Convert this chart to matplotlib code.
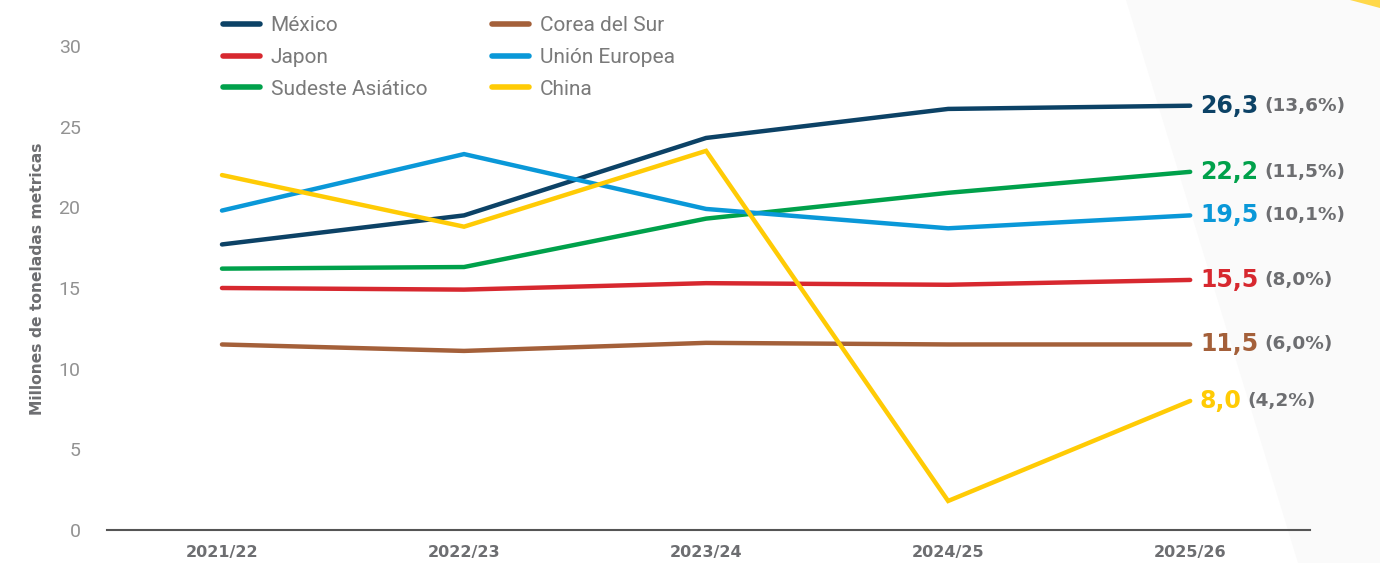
import matplotlib
matplotlib.use('Agg')
import matplotlib.pyplot as plt
from matplotlib.lines import Line2D
from matplotlib.patches import Polygon

# data (millones de toneladas metricas)
seasons = ['2021/22', '2022/23', '2023/24', '2024/25', '2025/26']
mexico   = [17.7, 19.5, 24.3, 26.1, 26.3]
japon    = [15.0, 14.9, 15.3, 15.2, 15.5]
sudeste  = [16.2, 16.3, 19.3, 20.9, 22.2]
corea    = [11.5, 11.1, 11.6, 11.5, 11.5]
ue       = [19.8, 23.3, 19.9, 18.7, 19.5]
china    = [22.0, 18.8, 23.5, 1.8, 8.0]
end_labels = ['26,3', '15,5', '22,2', '11,5', '19,5', '8,0']
shares     = ['(13,6%)', '(8,0%)', '(11,5%)', '(6,0%)', '(10,1%)', '(4,2%)']
names  = ['México', 'Japon', 'Sudeste Asiático', 'Corea del Sur', 'Unión Europea', 'China']
colors = ['#0c4266', '#d7282f', '#00a14b', '#a4603a', '#0a98d8', '#ffcb05']
series = [mexico, japon, sudeste, corea, ue, china]

GRAY = '#6d6e71'
plt.rcParams['font.family'] = ['Roboto', 'DejaVu Sans']

fig = plt.figure(figsize=(13.8, 5.63), dpi=100)
# faint background shading on the right + yellow corner
fig.patches.append(Polygon([(1126/1380, 1), (1, 1), (1, 0), (1298/1380, 0)],
                           closed=True, transform=fig.transFigure,
                           facecolor='#fafafa', edgecolor='none', zorder=-2))
fig.patches.append(Polygon([(1350/1380, 1), (1, 1), (1, 1-8/563)],
                           closed=True, transform=fig.transFigure,
                           facecolor='#ffd84a', edgecolor='none', zorder=-1))

ax = fig.add_axes([107/1380, 1-530/563, (1310-107)/1380, (530-46)/563])
ax.patch.set_alpha(0)
x = list(range(len(seasons)))
for ys, c in zip(series, colors):
    ax.plot(x, ys, color=c, lw=3.2, solid_capstyle='round',
            solid_joinstyle='miter', clip_on=False, zorder=3)

ax.set_xlim(-0.475, 4.495)
ax.set_ylim(0, 30)
ax.set_yticks(range(0, 31, 5))
ax.set_xticks(x)
ax.set_xticklabels(seasons, fontsize=11.5, fontweight='bold', color=GRAY,
                   family=['DejaVu Sans'])
ax.tick_params(axis='x', length=0, pad=11)
ax.tick_params(axis='y', length=0, pad=19, labelsize=14, labelcolor='#929292')
for s in ['top', 'right', 'left']:
    ax.spines[s].set_visible(False)
ax.spines['bottom'].set_color('#555555')
ax.spines['bottom'].set_linewidth(1.5)
ax.set_ylabel('Millones de toneladas metricas', fontsize=11.2,
              fontweight='bold', color=GRAY, family=['DejaVu Sans'])
ax.yaxis.set_label_coords(-(107-45)/1203, (530-279)/484)

# end labels
fig.canvas.draw()
r = fig.canvas.get_renderer()
for ys, c, lab, sh in zip(series, colors, end_labels, shares):
    t = ax.annotate(lab, (4, ys[-1]), xytext=(7, 0), textcoords='offset points',
                    ha='left', va='center', fontsize=17, fontweight='bold',
                    color=c, family=['DejaVu Sans'])
    bb = t.get_window_extent(r)
    ax.annotate(sh, (bb.x1 + 6, (bb.y0 + bb.y1) / 2), xycoords='figure pixels',
                ha='left', va='center', fontsize=13.3, fontweight='bold',
                color=GRAY, family=['DejaVu Sans'])

# legend, two columns
handles = [Line2D([0], [0], color=c, lw=4, solid_capstyle='round') for c in colors]
leg = fig.legend(handles, names,
                 ncol=2, loc='upper left', bbox_to_anchor=(204/1380, 1.005),
                 frameon=False, fontsize=15, handlelength=1.8,
                 handletextpad=0.5, columnspacing=3.1, labelspacing=0.62)
for t in leg.get_texts():
    t.set_color('#7a7a7a')

fig.savefig('out.png', dpi=100)
